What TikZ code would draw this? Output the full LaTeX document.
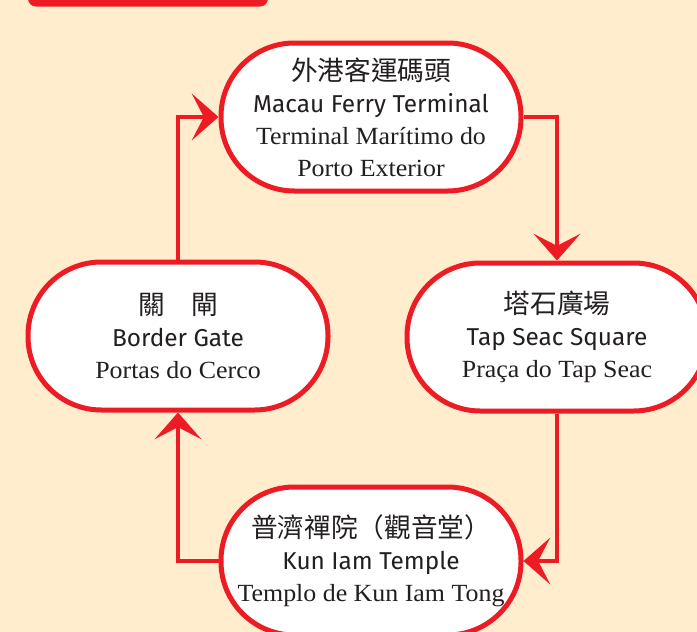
\documentclass[tikz,border=0pt]{standalone}
\usepackage{fontspec}
\setmainfont{Liberation Serif}[FakeStretch=1.05]
\setsansfont{Fira Sans}
\newfontfamily\cjk{Noto Sans CJK TC}
\usetikzlibrary{arrows.meta,positioning}
\definecolor{macred}{RGB}{237,28,36}
\definecolor{cream}{RGB}{255,237,205}
\definecolor{ink}{RGB}{35,31,32}
\newcommand\zh[1]{{\cjk\fontsize{20pt}{24pt}\selectfont #1}}
\newcommand\en[1]{{\sffamily\fontsize{18.3pt}{24pt}\selectfont #1}}
\newcommand\po[1]{{\rmfamily\fontsize{18.5pt}{24pt}\selectfont #1}}
\tikzset
    {
        stn/.style = {rectangle, rounded corners=55pt, draw=macred, line width=3.75pt, fill=white, text=ink, align=center, minimum width=225pt, minimum height=111pt, inner sep=0pt, font=\fontsize{18pt}{24pt}\selectfont},
        flow/.style = {draw=macred, line width=3pt, -{Stealth[length=20pt,width=35pt,inset=9pt]}}
    }

\begin{document}
\begin{tikzpicture}[x=0.75pt, y=-0.75pt]
                        \useasboundingbox (0,0) rectangle (697,632);
                        \fill[cream] (0,0) rectangle (697,632);
                        \clip (0,0) rectangle (697,632);
                        \fill[macred, rounded corners=6pt] (28,-20) rectangle (268,6.5);

                        \node [stn] (ferry) at (371,117) {\zh{外港客運碼頭}\\ \en{Macau Ferry Terminal}\\ \po{Terminal Marítimo do}\\ \po{Porto Exterior}};
                        \node [stn] (gate) at (178,336) {\zh{關　閘}\\ \en{Border Gate}\\ \po{Portas do Cerco}};
                        \node [stn] (tapseac) at (557,337) {\zh{塔石廣場}\\ \en{Tap Seac Square}\\ \po{Praça do Tap Seac}};
                        \node [stn] (kunlam) at (371,561) {\zh{普濟禪院（觀音堂）}\\ \en{Kun Iam Temple}\\ \po{Templo de Kun Iam Tong}};

                        \draw [flow] (gate.north) |- (ferry.west);
                        \draw [flow] (ferry.east) -| (tapseac.north);
                        \draw [flow] (tapseac.south) |- (kunlam.east);
                        \draw [flow] (kunlam.west) -| (gate.south);
                    \end{tikzpicture}
\end{document}
